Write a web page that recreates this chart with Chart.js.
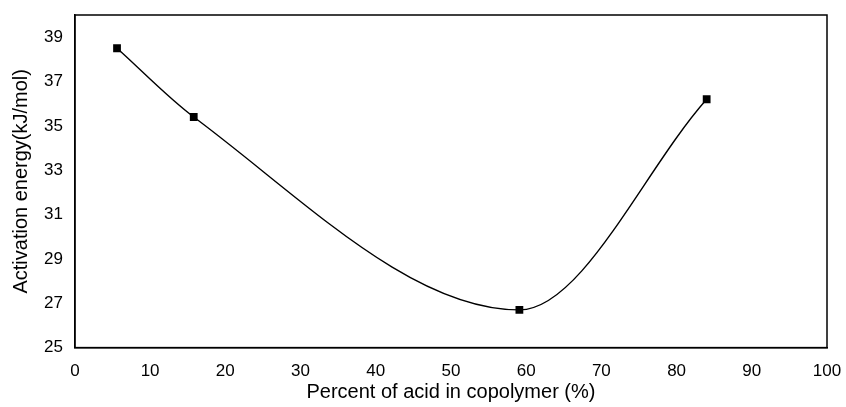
<!DOCTYPE html>
<html>
<head>
<meta charset="utf-8">
<script src="https://cdn.jsdelivr.net/npm/chart.js@4/dist/chart.umd.min.js"></script>
<style>
  html, body { margin: 0; padding: 0; background: #fff; }
  #wrap { width: 846px; height: 407px; }
</style>
</head>
<body>
<div id="wrap"><canvas id="energyChart" width="846" height="407"></canvas></div>
<script>
const acidPercent = [5.6, 15.8, 59.1, 84.0];
const activationEnergy = [38.5, 35.4, 26.7, 36.2];
const yTickValues = [25, 27, 29, 31, 33, 35, 37, 39];

const frameBox = {
  id: 'frameBox',
  afterDraw(chart) {
    const { ctx, chartArea: { left, top, width, height } } = chart;
    ctx.save();
    ctx.strokeStyle = '#000';
    ctx.lineWidth = 1.5;
    ctx.strokeRect(left, top, width, height);
    ctx.restore();
  }
};

const ctx = document.getElementById('energyChart').getContext('2d');
new Chart(ctx, {
  type: 'line',
  data: {
    datasets: [{
      data: acidPercent.map((x, i) => ({ x: x, y: activationEnergy[i] })),
      borderColor: '#000',
      borderWidth: 1.4,
      backgroundColor: '#000',
      pointStyle: 'rect',
      pointRadius: 5.5,
      pointBorderWidth: 0,
      cubicInterpolationMode: 'monotone',
      fill: false
    }]
  },
  options: {
    responsive: false,
    animation: false,
    layout: { padding: { top: 15, right: 19, left: 9, bottom: 5 } },
    plugins: {
      legend: { display: false },
      tooltip: { enabled: false }
    },
    scales: {
      x: {
        type: 'linear',
        min: 0,
        max: 100,
        afterFit(scale) {
          scale.paddingRight = 0;
        },
        ticks: {
          stepSize: 10,
          color: '#000',
          font: { family: 'Liberation Sans, Arial', size: 17 },
          padding: 10
        },
        grid: { display: false, drawTicks: true, tickLength: 4, color: '#000' },
        border: { color: '#000', width: 1.5 },
        title: {
          display: true,
          text: 'Percent of acid in copolymer (%)',
          color: '#000',
          font: { family: 'Liberation Sans, Arial', size: 20, lineHeight: 1 },
          padding: { top: -10, bottom: 0 }
        }
      },
      y: {
        min: 25,
        max: 40,
        afterBuildTicks(scale) {
          scale.ticks = yTickValues.map(v => ({ value: v }));
        },
        afterFit(scale) {
          scale.paddingTop = 0;
        },
        ticks: {
          color: '#000',
          font: { family: 'Liberation Sans, Arial', size: 17 },
          padding: 7
        },
        grid: { display: false, tickLength: 5, color: '#000' },
        border: { color: '#000', width: 1.5 },
        title: {
          display: true,
          text: 'Activation energy(kJ/mol)',
          color: '#000',
          font: { family: 'Liberation Sans, Arial', size: 20 },
          padding: { top: 0, bottom: 4 }
        }
      }
    }
  },
  plugins: [frameBox]
});
</script>
</body>
</html>
